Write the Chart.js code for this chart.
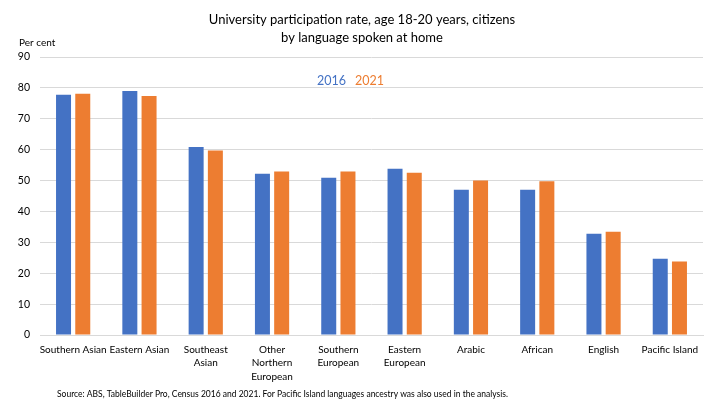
<!DOCTYPE html>
<html><head><meta charset="utf-8">
<script src="https://cdn.jsdelivr.net/npm/chart.js@4/dist/chart.umd.min.js"></script>
<style>html,body{margin:0;padding:0;background:#fff}#wrap{width:720px;height:405px}</style>
</head><body><div id="wrap"><canvas id="c" width="720" height="405"></canvas></div>
<script>
const categories = [["Southern Asian"],["Eastern Asian"],["Southeast","Asian"],["Other","Northern","European"],["Southern","European"],["Eastern","European"],["Arabic"],["African"],["English"],["Pacific Island"]];
const values2016 = [77.8, 79.0, 60.9, 52.2, 50.9, 53.8, 47.0, 47.0, 32.8, 24.7];
const values2021 = [78.1, 77.4, 59.7, 52.9, 52.9, 52.5, 50.0, 49.8, 33.4, 23.8];
const seriesLabels = ["2016", "2021"];
const yTicks = [0,10,20,30,40,50,60,70,80,90];
const titleLines = ["University participation rate, age 18-20 years, citizens","by language spoken at home"];
const yUnit = "Per cent";
const sourceNote = "Source: ABS, TableBuilder Pro, Census 2016 and 2021. For Pacific Island languages ancestry was also used in the analysis.";
const colors = ["#4472C4", "#ED7D31"];
const FONT = "Lato";

const textPlugin = {
  id: 'texts',
  afterDraw(chart) {
    const ctx = chart.ctx;
    ctx.save();
    ctx.fillStyle = '#000';
    ctx.textAlign = 'center'; ctx.textBaseline = 'middle';
    ctx.font = `13px ${FONT}`;
    ctx.fillText(titleLines[0], 362, 20);
    ctx.fillText(titleLines[1], 362, 38);
    ctx.textAlign = 'left';
    ctx.font = `10px ${FONT}`;
    ctx.fillText(yUnit, 19, 43);
    ctx.font = `8.5px ${FONT}`;
    ctx.fillText(sourceNote, 57, 394);
    ctx.font = `12.5px ${FONT}`;
    const y = 81;
    let x = 317;
    seriesLabels.forEach((l, i) => {
      ctx.fillStyle = colors[i];
      ctx.fillText(l, x, y);
      x += ctx.measureText(l).width + 9;
    });
    ctx.restore();
  }
};

new Chart(document.getElementById('c'), {
  type: 'bar',
  data: {
    labels: categories,
    datasets: [
      { label: seriesLabels[0], data: values2016, backgroundColor: colors[0] },
      { label: seriesLabels[1], data: values2021, backgroundColor: colors[1] }
    ]
  },
  options: {
    responsive: false, animation: false, devicePixelRatio: 1,
    layout: { padding: { top: 57, right: 17, left: 0, bottom: 0 } },
    datasets: { bar: { categoryPercentage: 0.58, barPercentage: 0.78 } },
    plugins: { legend: { display: false }, title: { display: false }, tooltip: { enabled: false } },
    scales: {
      x: {
        grid: { display: false, drawTicks: false },
        border: { color: '#d9d9d9' },
        ticks: { color: '#000', font: { family: FONT, size: 10, lineHeight: 1.35 }, padding: 8, maxRotation: 0, autoSkip: false },
        afterFit(s) { s.height = 70; }
      },
      y: {
        min: 0, max: 90,
        afterBuildTicks(s) { s.ticks = yTicks.map(v => ({ value: v })); },
        grid: { color: '#d9d9d9', drawTicks: false },
        border: { display: false },
        ticks: { color: '#000', font: { family: FONT, size: 10.5 }, padding: 10 },
        afterFit(s) { s.width = 40; }
      }
    }
  },
  plugins: [textPlugin]
});
</script></body></html>
